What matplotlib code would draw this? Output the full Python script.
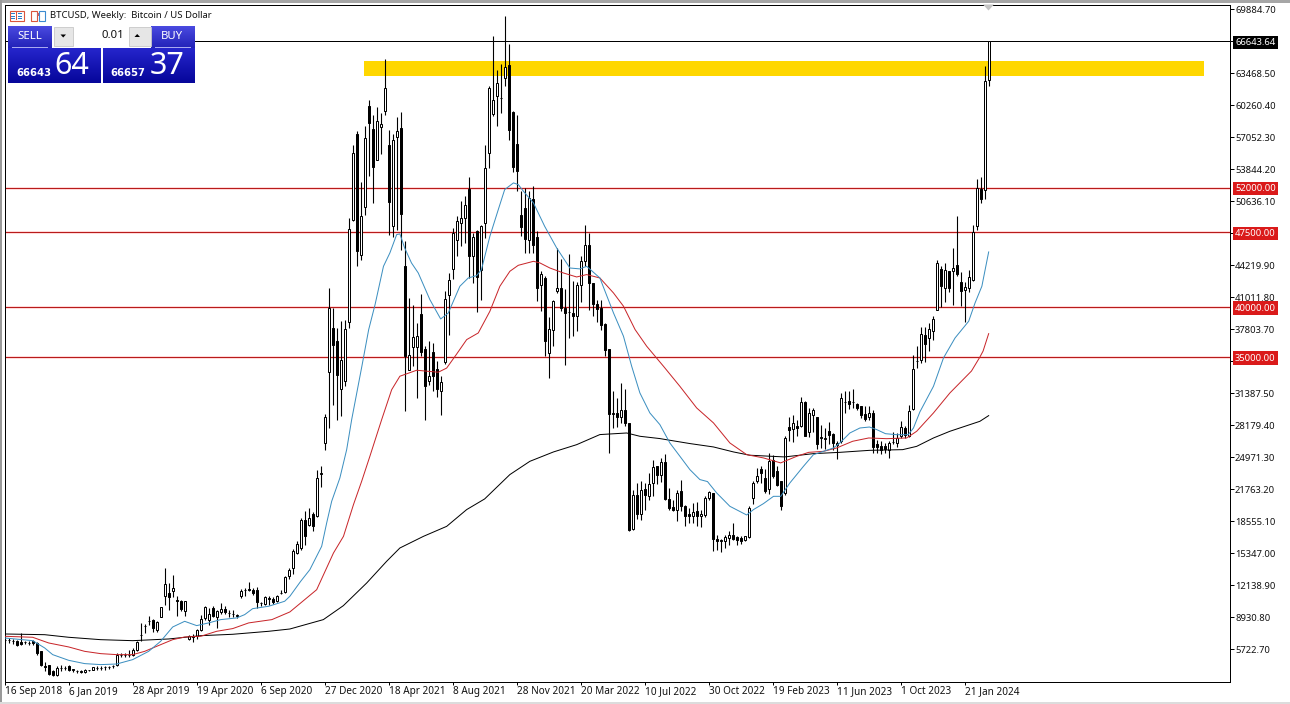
import numpy as np
import matplotlib
matplotlib.use("Agg")
import matplotlib.pyplot as plt
from matplotlib.patches import Rectangle, Polygon
from matplotlib.colors import LinearSegmentedColormap
from matplotlib.transforms import blended_transform_factory

# Prices in thousands of USD, weekly candles
opens = [6.67,6.60,6.55,6.57,6.41,6.40,6.33,6.51,6.34,5.57,
4.07,4.17,3.57,3.17,3.82,3.85,4.07,3.66,3.53,3.46,
3.40,3.62,3.67,3.82,3.82,3.92,3.96,3.99,4.17,5.09,
5.10,5.16,5.17,5.67,7.10,8.06,8.57,8.68,7.61,8.95,
11.02,11.35,11.52,10.68,10.52,9.58,6.74,7.07,7.07,7.61,
8.85,8.61,9.85,8.95,9.41,9.75,9.33,9.27,9.08,11.09,
11.67,11.79,11.69,11.62,10.34,10.28,10.78,10.78,10.52,11.34,
11.42,13.02,13.86,15.36,15.87,18.64,18.21,19.31,19.11,23.32,
26.40,33.48,37.92,36.58,31.81,32.57,38.49,48.78,57.40,45.27,
50.05,60.21,57.87,54.80,58.04,59.64,56.30,48.11,57.07,57.97,
44.10,33.68,35.98,36.01,39.36,35.81,32.57,35.48,33.81,31.57,
34.48,41.26,43.83,46.71,48.44,48.95,51.86,45.11,47.61,43.70,
48.45,55.47,59.41,61.15,60.95,62.99,64.32,59.54,56.37,49.28,
49.95,46.71,50.85,47.04,42.26,42.93,35.41,37.68,41.60,41.93,
39.92,39.47,39.42,39.09,42.26,44.60,46.27,42.43,40.36,39.93,
38.36,35.82,29.30,29.40,29.00,29.67,28.40,17.77,21.21,19.31,
21.78,21.11,22.38,24.05,23.22,24.49,20.78,19.98,19.71,21.55,
20.11,19.31,19.11,19.54,19.04,19.21,20.88,21.38,16.77,16.61,
16.53,16.87,17.20,16.97,16.87,16.70,16.97,20.88,22.55,23.79,
22.88,21.78,24.65,23.55,22.55,21.38,27.99,27.79,28.13,28.06,
30.47,27.46,29.23,28.99,26.90,26.80,27.56,27.32,26.16,26.56,
30.45,30.63,30.45,30.33,30.13,29.33,28.99,29.40,26.32,26.12,
26.12,25.72,26.44,26.39,27.06,27.89,27.12,29.80,34.56,34.68,
37.25,36.92,37.58,39.69,43.83,41.93,43.60,43.60,44.24,42.50,
41.70,41.93,42.76,48.11,51.86,51.79,62.82]
highs = [6.91,6.81,6.74,6.67,7.34,6.51,6.57,6.67,6.44,5.57,
4.40,4.17,3.67,4.07,4.17,4.07,4.13,3.73,3.67,3.60,
3.73,3.67,3.93,4.00,4.00,4.07,4.07,4.17,5.34,5.34,
5.34,5.60,5.84,6.57,8.35,8.28,9.01,8.75,8.51,9.92,
13.86,12.35,13.19,11.02,10.62,10.58,7.17,7.27,7.74,9.18,
10.08,9.85,10.02,9.61,10.35,10.02,9.61,9.61,9.28,11.75,
11.85,12.46,11.85,12.00,10.48,11.02,11.02,10.95,11.19,11.69,
13.02,13.86,15.76,16.53,18.87,19.54,19.88,19.44,23.72,24.12,
29.34,41.93,39.92,37.92,38.59,38.75,48.95,56.30,57.64,52.52,
58.21,60.81,59.31,60.08,59.48,64.89,57.74,57.40,59.08,59.54,
46.61,40.93,40.26,38.42,41.36,36.08,36.58,36.42,34.58,33.08,
41.60,43.43,47.95,49.18,50.62,51.12,53.06,47.44,47.78,48.28,
56.30,62.15,67.23,63.82,64.42,69.23,66.43,59.64,59.31,51.62,
51.96,51.62,52.12,47.61,43.60,43.10,39.02,40.76,45.94,44.84,
41.83,45.37,42.60,42.50,45.11,48.28,47.44,42.43,40.76,40.76,
38.43,35.82,31.57,30.90,32.41,31.81,28.40,21.71,22.38,22.55,
22.38,23.39,24.72,24.05,24.89,25.32,21.88,20.71,21.71,22.72,
20.21,19.88,20.38,20.44,19.71,21.11,21.55,21.38,17.20,16.72,
17.20,17.54,18.37,17.04,17.04,17.10,20.04,22.55,23.89,24.05,
23.79,25.39,25.22,24.05,22.55,27.06,28.99,29.23,28.73,31.00,
30.57,29.90,29.90,28.99,28.23,27.89,28.46,27.39,26.56,31.40,
31.57,31.57,31.80,30.40,30.13,30.07,30.13,29.66,26.72,26.56,
26.39,26.56,27.46,27.39,28.56,28.06,30.23,35.25,36.08,38.02,
38.02,38.42,39.09,44.77,44.10,44.44,43.60,45.94,49.12,43.50,
42.50,43.77,48.28,52.86,53.06,64.22,66.64]
lows = [6.34,6.34,6.27,6.07,6.17,6.24,6.17,6.17,5.17,4.00,
3.50,3.17,3.06,3.06,3.50,3.60,3.50,3.47,3.37,3.33,
3.33,3.53,3.60,3.60,3.60,3.67,3.73,3.83,4.00,4.94,
4.94,4.94,5.00,5.50,6.51,7.34,8.18,7.41,7.41,8.91,
10.18,9.61,10.95,9.01,9.51,9.08,6.61,6.41,6.74,7.51,
8.68,8.18,8.95,7.84,9.28,9.28,8.95,8.95,8.85,10.85,
11.09,11.52,11.19,9.85,10.08,10.18,10.18,10.28,10.45,11.25,
11.35,12.76,13.26,15.30,15.70,16.20,18.04,17.54,18.98,21.95,
25.73,27.89,30.23,28.73,29.13,32.14,37.92,48.61,44.10,44.77,
49.28,53.19,50.45,54.73,55.40,59.31,47.28,47.04,47.78,45.77,
29.56,33.68,34.14,30.90,35.08,28.73,32.24,31.57,31.00,29.23,
34.34,37.25,42.83,45.17,46.17,46.44,42.93,42.43,39.49,40.69,
46.94,53.96,59.14,58.14,59.48,62.22,56.80,53.53,51.62,47.18,
45.44,45.44,45.44,40.59,39.59,35.08,32.91,36.08,41.43,39.59,
34.24,36.92,37.08,37.58,40.49,44.10,39.76,39.16,38.49,37.69,
35.15,25.39,27.90,28.00,28.40,28.13,17.54,17.70,18.77,18.70,
19.71,20.71,21.11,22.32,22.45,20.71,19.71,19.54,18.54,19.54,
18.10,18.37,18.37,18.10,17.97,18.97,20.71,15.53,15.70,15.43,
15.87,16.20,16.70,16.20,16.30,16.53,16.87,20.31,22.38,22.38,
21.38,21.31,22.88,22.04,19.70,21.21,26.56,26.46,27.06,27.99,
27.06,26.99,27.46,25.79,25.89,25.79,26.32,25.72,24.78,26.39,
29.40,29.80,29.90,29.73,28.90,28.56,28.73,25.39,25.39,25.32,
25.39,24.89,26.32,25.99,26.89,26.89,26.99,29.66,33.91,34.41,
34.48,35.58,36.68,39.69,40.02,40.49,41.49,40.26,43.10,40.16,
38.49,41.49,42.60,47.71,50.45,50.85,62.22]
closes = [6.61,6.62,6.58,6.17,6.24,6.42,6.35,6.34,5.34,4.17,
3.90,3.27,3.13,3.83,3.85,3.87,3.60,3.68,3.55,3.48,
3.67,3.58,3.90,3.84,3.84,3.94,3.98,4.01,5.10,5.11,
5.12,5.18,5.67,6.41,7.12,8.09,8.59,7.84,8.41,9.92,
12.29,10.95,11.85,10.58,9.75,10.58,7.01,6.94,7.61,8.75,
9.95,9.28,9.01,9.51,9.75,9.41,9.35,9.29,9.10,11.59,
11.69,11.62,11.35,10.42,10.36,10.92,10.80,10.45,11.09,11.36,
12.96,13.69,15.53,16.30,18.64,17.10,18.87,18.04,22.89,23.38,
29.00,39.92,36.25,33.24,34.74,37.82,47.85,55.47,45.61,49.12,
56.97,58.47,54.03,58.64,58.37,61.98,50.52,56.80,57.64,49.35,
35.15,35.25,37.02,37.15,35.48,32.14,33.08,33.08,31.81,32.47,
40.83,42.70,47.44,48.61,48.92,50.29,45.11,47.04,43.03,48.18,
53.96,61.98,60.81,62.48,61.00,64.09,57.80,54.06,53.63,48.01,
46.87,50.95,46.27,41.93,43.37,36.58,37.82,40.59,41.93,39.92,
39.42,39.51,39.09,42.26,44.60,46.27,42.43,40.36,39.83,38.26,
35.68,29.33,29.36,29.00,29.67,28.40,17.70,21.21,19.31,21.71,
21.21,22.32,23.99,23.15,24.49,20.78,19.88,19.64,21.38,20.04,
19.11,19.11,19.44,19.04,19.31,20.88,21.45,16.77,16.53,16.65,
16.97,17.20,16.77,16.70,16.53,17.04,19.88,22.38,23.12,23.39,
21.55,24.55,23.05,22.21,20.04,26.89,27.66,28.39,27.89,30.47,
27.12,29.40,29.66,26.32,26.94,26.84,27.16,26.39,26.39,30.90,
30.49,30.30,30.49,29.90,29.23,28.80,29.40,25.99,25.99,25.72,
25.79,26.39,26.48,26.89,27.99,27.22,29.63,33.81,34.60,37.35,
36.35,37.82,38.82,44.44,42.16,43.77,41.93,43.93,43.37,41.60,
42.03,43.03,47.51,51.96,50.89,62.65,66.64]

# Moving averages (candle number, price)
blue_x = [0,7,10,12,16,20,24,28,32,36,39,42,45,48,51,54,58,60,62,66,70,71.3,74,76.3,79.25,80.5,81.75,83.8,85.5,86.75,89.3,91,92.6,94.7,96.3,98,98.8,100,101.7,103.4,106.3,109,110.9,113.8,115.9,118,119.2,121.3,123.4,125,127.2,128.4,129.7,132.2,135,138,141.3,143.8,145.5,148.8,152.2,154.7,156.75,158.8,161.3,163.8,166.3,168.8,171.3,173.8,175.7,178,181.3,185.5,187.2,189.7,192.2,194,196.3,199.7,202.2,204.7,207.2,208.8,211.3,213.8,216.2,218,220.2,223,225.9,227.2,228.8,232.2,234.7,237.6,241,242.6,244.3,246]
blue_y = [6.84,6.57,5.84,5.17,4.60,4.27,4.17,4.23,4.67,5.50,6.51,7.94,8.51,8.08,8.35,8.68,8.85,9.18,9.78,10.02,10.52,11.02,12.52,13.69,16.03,18.37,20.54,22.88,25.72,28.73,34.08,37.75,40.26,44.1,45.44,47.28,47.35,45.94,44.44,43.43,40.76,38.82,39.42,42.1,42.93,43.17,43.77,47.11,49.78,51.79,52.46,52.29,51.62,50.45,48.11,45.94,43.93,43.84,44.1,42.93,39.43,37.09,34.08,31.41,29.4,28.23,26.39,25.06,23.72,22.72,22.52,21.38,20.04,19.17,19.71,20.31,21.04,21.04,22.38,24.05,25.22,25.55,25.89,26.39,27.39,27.89,27.99,27.73,27.32,27.22,27.22,27.89,29.5,32.07,34.91,36.92,38.59,40.43,42.1,45.54]
red_x = [0,7,11,16,20,24,28,32,35,39,42,45,49,53,57,61,66.8,71.3,78,82.2,84.7,87.2,89.25,91.3,94.25,96.75,98.8,103,108.4,110.5,112.9,115.5,118.4,121.3,123.8,126.3,128.4,132.2,133.8,136.3,139.7,143,145.5,148.8,152.2,154.7,157.6,160.5,164.7,168.8,173,177.2,181.3,185.5,189.7,194,198,201,204.7,208,212,216,220.5,225.5,228,232.2,236.3,241.7,243.8,244.6,246]
red_y = [7.01,6.91,6.34,5.94,5.50,5.27,5.17,5.17,5.50,6.17,6.67,6.94,7.01,7.51,7.78,8.35,8.68,9.45,11.68,15.36,17.03,20.21,22.55,25.05,28.73,31.73,33.08,33.68,33.48,33.9,35.25,36.75,37.42,39.59,42.1,43.6,44.2,44.6,44.44,43.93,43.43,43.03,43.27,42.93,41.43,40.1,37.76,36.09,34.08,32.07,29.9,28.4,26.39,25.22,24.89,24.39,25.05,25.45,25.55,25.89,26.56,26.89,26.82,26.89,27.56,29.4,31.4,33.6,35.0,35.6,37.35]
black_x = [0,10,16,24,32,41,49,57,66,71.3,79.67,84.67,90.5,95.5,98.8,104.7,110.5,115.5,120,126.3,131.3,137.2,143,148.8,155.5,158.8,163.8,166.3,171.3,177.2,182.2,186.3,191.3,195,202.2,208.8,216.2,224.5,228,232.2,236.3,243.8,246]
black_y = [7.24,7.17,6.91,6.67,6.57,6.74,7.07,7.21,7.51,7.74,8.68,10.08,12.35,14.53,15.86,17.03,18.03,19.71,20.78,23.22,24.55,25.49,26.22,27.23,27.39,27.06,26.83,26.66,26.33,25.99,25.49,25.16,25.06,24.99,25.32,25.45,25.65,25.72,26.05,26.89,27.56,28.56,29.13]

levels = [52.0, 47.5, 40.0, 35.0]
level_labels = ["52000.00", "47500.00", "40000.00", "35000.00"]
last_price = 66.64364
last_label = "66643.64"
zone_low, zone_high = 63.22, 64.66
zone_start, zone_end = 89.8, 299.8

y_ticks = [69884.70, 66676.60, 63468.50, 60260.40, 57052.30, 53844.20, 50636.10, 47428.00,
           44219.90, 41011.80, 37803.70, 34595.60, 31387.50, 28179.40, 24971.30, 21763.20,
           18555.10, 15347.00, 12138.90, 8930.80, 5722.70]
hidden_ticks = [66676.60, 47428.00]
date_labels = ["16 Sep 2018", "6 Jan 2019", "28 Apr 2019", "19 Apr 2020", "6 Sep 2020", "27 Dec 2020",
               "18 Apr 2021", "8 Aug 2021", "28 Nov 2021", "20 Mar 2022", "10 Jul 2022", "30 Oct 2022",
               "19 Feb 2023", "11 Jun 2023", "1 Oct 2023", "21 Jan 2024"]

W, H = 1290, 704
FONT = "Noto Sans"
plt.rcParams["font.family"] = [FONT, "DejaVu Sans"]
PX = 0.72
fig = plt.figure(figsize=(W / 100, H / 100), dpi=100, facecolor="white")

L, R, T, B = 4.5, 1229.5, 4.5, 681.5
ax = fig.add_axes([L / W, (H - B) / H, (R - L) / W, (B - T) / H])
ax.set_xlim((L - 4.67) / 4, (R - 4.67) / 4)
ax.set_ylim(70.837 - 0.10025 * (B + 0.4), 70.837 - 0.10025 * (T + 0.4))
for s in ax.spines.values():
    s.set_linewidth(PX)
    s.set_color("black")

o, h, l, c = map(np.array, (opens, highs, lows, closes))
idx = np.arange(len(o))

ax.add_patch(Rectangle((zone_start, zone_low), zone_end - zone_start, zone_high - zone_low,
                       facecolor="#FFD700", edgecolor="none", zorder=1))
for lv in levels:
    ax.axhline(lv, color="#FFD9D9", lw=PX * 3, zorder=1.1)
    ax.axhline(lv, color="#B81C1C", lw=PX, zorder=1.2)
ax.axhline(last_price, color="black", lw=PX, zorder=1.2)

ax.vlines(idx, l, h, color="black", lw=PX * 1.1, zorder=2)
up = c >= o
ax.bar(idx[up], (c - o)[up], bottom=o[up], width=0.5, facecolor="white", edgecolor="black", linewidth=PX, zorder=2.1)
ax.bar(idx[~up], (o - c)[~up], bottom=c[~up], width=0.5, facecolor="black", edgecolor="black", linewidth=PX, zorder=2.1)

ax.plot(black_x, black_y, color="black", lw=PX, zorder=3)
ax.plot(red_x, red_y, color="#C8262A", lw=PX, zorder=3.1)
ax.plot(blue_x, blue_y, color="#3C8FC0", lw=PX, zorder=3.2)

ax.yaxis.tick_right()
ax.set_yticks([v / 1000 for v in y_ticks])
ax.set_yticklabels(["" if v in hidden_ticks else f"{v:.2f}" for v in y_ticks])
ax.tick_params(axis="y", length=3, width=PX, pad=1, labelsize=6.8, labelcolor="#111111")
ax.set_xticks(np.arange(len(date_labels)) * 16)
ax.set_xticklabels(date_labels, ha="left", va="baseline")
ax.tick_params(axis="x", length=2, width=PX, pad=7, labelsize=7.2, labelcolor="#111111")

trans = blended_transform_factory(ax.transAxes, ax.transData)
x_lbl = 1 + 5.6 / (R - L)
for lv, txt in zip(levels, level_labels):
    ax.text(x_lbl, lv, txt, transform=trans, color="white", fontsize=6.8, va="center_baseline", ha="left",
            zorder=20, clip_on=False,
            bbox=dict(boxstyle="square,pad=0.24", facecolor="#DA1A1A", edgecolor="none"))
ax.text(x_lbl, last_price, last_label, transform=trans, color="white", fontsize=6.8, va="center_baseline", ha="left",
        zorder=20, clip_on=False,
        bbox=dict(boxstyle="square,pad=0.24", facecolor="black", edgecolor="none"))

# Overlay in pixel coordinates: window chrome, title and the one-click trading panel
ov = fig.add_axes([0, 0, 1, 1], facecolor="none")
ov.set_axis_off()

def rect(x, y, w, h_, fc, ec="none", lw=0.0, z=5):
    ov.add_patch(Rectangle((x, y), w, h_, facecolor=fc, edgecolor=ec, linewidth=lw, zorder=z))

def grad(x0, x1, y0, y1, top, bottom, z=4):
    cm = LinearSegmentedColormap.from_list("g", [top, bottom])
    ov.imshow(np.linspace(0, 1, 64).reshape(-1, 1), cmap=cm, extent=(x0, x1, y1, y0),
              aspect="auto", zorder=z, interpolation="bilinear")

rect(0, 0, W, 2.5, "#A6A6A6")
rect(0, 0, 2, H, "#9A9A9A")
rect(0, 702, W, 2, "#DCDCDC")
ov.add_patch(Polygon([(983, 4.5), (994, 4.5), (988.5, 10.5)], closed=True, facecolor="#C4C4C4", edgecolor="none", zorder=5))

# Title icons
rect(9.5, 10.5, 14, 10, "white", "#D9553C", 0.8)
rect(16, 11, 1, 9, "#D9553C")
for yy in (13, 15.5, 18):
    rect(11, yy, 4, 1, "#2E7DC8")
    rect(18, yy, 4, 1, "#2E7DC8")
rect(30.5, 10.5, 6, 10, "white", "#D9553C", 0.8)
rect(38.5, 10.5, 6, 10, "white", "#3C8BD0", 0.8)
rect(36.5, 12.5, 2, 3, "#C86060")
ov.text(50.5, 15.5, "BTCUSD, Weekly:  Bitcoin / US Dollar", fontsize=6.85, color="#111111", va="center", ha="left", zorder=6)

# Trading panel
DARK_T, DARK_B = "#2525CC", "#06069A"
grad(8, 52, 26, 48, "#4A4AE0", "#2222B8")
grad(151, 195, 26, 48, "#4A4AE0", "#2222B8")
grad(8, 101, 48, 83, DARK_T, DARK_B)
grad(103, 195, 48, 83, DARK_T, DARK_B)
rect(52, 26, 99, 22, "white", z=4.5)
rect(54, 27, 19, 19, "#E6E6E6", "#C8C8C8", 0.6)
rect(129, 27, 22, 19, "#E6E6E6", "#C8C8C8", 0.6)
ov.add_patch(Polygon([(60.5, 34.5), (66, 34.5), (63.2, 37.5)], closed=True, facecolor="black", zorder=6))
ov.add_patch(Polygon([(134.5, 37), (140, 37), (137.2, 34)], closed=True, facecolor="black", zorder=6))
rect(12, 47.4, 36, 0.8, "#A9A9F0")
rect(155, 47.4, 36, 0.8, "#A9A9F0")
ov.text(29.5, 36.5, "SELL", color="white", fontsize=8.2, ha="center", va="center", zorder=6)
ov.text(172, 36.5, "BUY", color="white", fontsize=8.2, ha="center", va="center", zorder=6)
ov.text(124.5, 36, "0.01", color="#111111", fontsize=8.2, ha="right", va="center", zorder=6)
ov.text(16, 72.5, "66643", color="white", fontsize=7.2, family="DejaVu Sans", fontweight="bold", ha="left", va="center", zorder=6)
ov.text(110, 72.5, "66657", color="white", fontsize=7.2, family="DejaVu Sans", fontweight="bold", ha="left", va="center", zorder=6)
ov.text(54, 66, "64", color="white", fontsize=22, ha="left", va="center", zorder=6)
ov.text(150, 66, "37", color="white", fontsize=22, ha="left", va="center", zorder=6)

ov.set_xlim(0, W)
ov.set_ylim(H, 0)

fig.savefig("out.png", dpi=100, facecolor="white")
